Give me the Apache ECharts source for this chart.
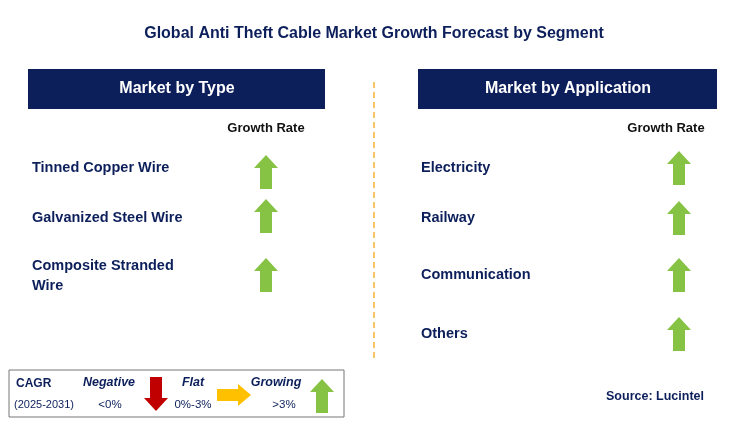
<!DOCTYPE html>
<html><head><meta charset="utf-8">
<script src="https://cdn.jsdelivr.net/npm/echarts@6/dist/echarts.min.js"></script>
<style>html,body{margin:0;padding:0;background:#fff}#c{width:732px;height:445px}</style>
</head><body><div id="c"></div>
<script>
const typeCategories = ["Tinned Copper Wire", "Galvanized Steel Wire", "Composite Stranded\nWire"];
const typeGrowth = ["growing", "growing", "growing"];
const appCategories = ["Electricity", "Railway", "Communication", "Others"];
const appGrowth = ["growing", "growing", "growing", "growing"];

const NAVY = "#0c1f5b", GREEN = "#86c345", RED = "#c00000", YELLOW = "#ffc000";
const FONT = "Liberation Sans, Arial, sans-serif";
function upArrow(cx, cy, color) {
  return {type:'polygon', shape:{points:[[cx,cy-17],[cx+12,cy-4],[cx+6,cy-4],[cx+6,cy+17],[cx-6,cy+17],[cx-6,cy-4],[cx-12,cy-4]]}, style:{fill:color}};
}
function downArrow(cx, cy, color) {
  return {type:'polygon', shape:{points:[[cx,cy+17],[cx+12,cy+4],[cx+6,cy+4],[cx+6,cy-17],[cx-6,cy-17],[cx-6,cy+4],[cx-12,cy+4]]}, style:{fill:color}};
}
function rightArrow(cx, cy, color) {
  return {type:'polygon', shape:{points:[[cx+17,cy],[cx+4,cy-11],[cx+4,cy-6],[cx-17,cy-6],[cx-17,cy+6],[cx+4,cy+6],[cx+4,cy+11]]}, style:{fill:color}};
}
function arrowFor(g, cx, cy) {
  return g === 'growing' ? upArrow(cx, cy, GREEN) : g === 'negative' ? downArrow(cx, cy, RED) : rightArrow(cx, cy, YELLOW);
}
const txt = (x, y, t, o) => Object.assign({type:'text', x, y, style:Object.assign({text:t, fill:NAVY, font:'bold 14.5px '+FONT, textVerticalAlign:'middle'}, o||{})});

const els = [];
els.push(txt(374, 34, "Global Anti Theft Cable Market Growth Forecast by Segment", {textAlign:'center', font:'bold 16px '+FONT}));
els.push({type:'rect', shape:{x:28, y:69, width:297, height:40}, style:{fill:NAVY}});
els.push(txt(177, 89, "Market by Type", {textAlign:'center', fill:'#fff', font:'bold 16px '+FONT}));
els.push({type:'rect', shape:{x:418, y:69, width:299, height:40}, style:{fill:NAVY}});
els.push(txt(568, 89, "Market by Application", {textAlign:'center', fill:'#fff', font:'bold 16px '+FONT}));
els.push({type:'line', shape:{x1:374, y1:82, x2:374, y2:358}, style:{stroke:'#f5b335', lineWidth:1.5, lineDash:[6,4]}});
els.push(txt(266, 128, "Growth Rate", {textAlign:'center', font:'bold 13px '+FONT, fill:'#111'}));
els.push(txt(666, 128, "Growth Rate", {textAlign:'center', font:'bold 13px '+FONT, fill:'#111'}));

const typeY = [168, 218, 276], typeArrowY = [172, 216, 275];
typeCategories.forEach((c, i) => {
  els.push(txt(32, typeY[i], c, {lineHeight:20}));
  els.push(arrowFor(typeGrowth[i], 266, typeArrowY[i]));
});
const appY = [168, 218, 275, 334];
appCategories.forEach((c, i) => {
  els.push(txt(421, appY[i], c));
  els.push(arrowFor(appGrowth[i], 679, appY[i]));
});

// legend
els.push({type:'rect', shape:{x:9, y:370, width:335, height:47}, style:{fill:'#fff', stroke:'#777', lineWidth:1}});
els.push(txt(16, 384, "CAGR", {font:'bold 12px '+FONT}));
els.push(txt(14, 405, "(2025-2031)", {font:'11px '+FONT}));
els.push(txt(109, 383, "Negative", {textAlign:'center', font:'italic bold 12.5px '+FONT}));
els.push(txt(110, 405, "<0%", {textAlign:'center', font:'11.5px '+FONT}));
els.push(downArrow(156, 394, RED));
els.push(txt(193, 383, "Flat", {textAlign:'center', font:'italic bold 12.5px '+FONT}));
els.push(txt(193, 405, "0%-3%", {textAlign:'center', font:'11.5px '+FONT}));
els.push(rightArrow(234, 395, YELLOW));
els.push(txt(276, 383, "Growing", {textAlign:'center', font:'italic bold 12.5px '+FONT}));
els.push(txt(284, 405, ">3%", {textAlign:'center', font:'11.5px '+FONT}));
els.push(upArrow(322, 396, GREEN));
els.push(txt(655, 397, "Source: Lucintel", {textAlign:'center', font:'bold 12.5px '+FONT}));

const chart = echarts.init(document.getElementById('c'));
chart.setOption({animation:false, backgroundColor:'#fff', graphic:{elements:els}});
</script></body></html>
